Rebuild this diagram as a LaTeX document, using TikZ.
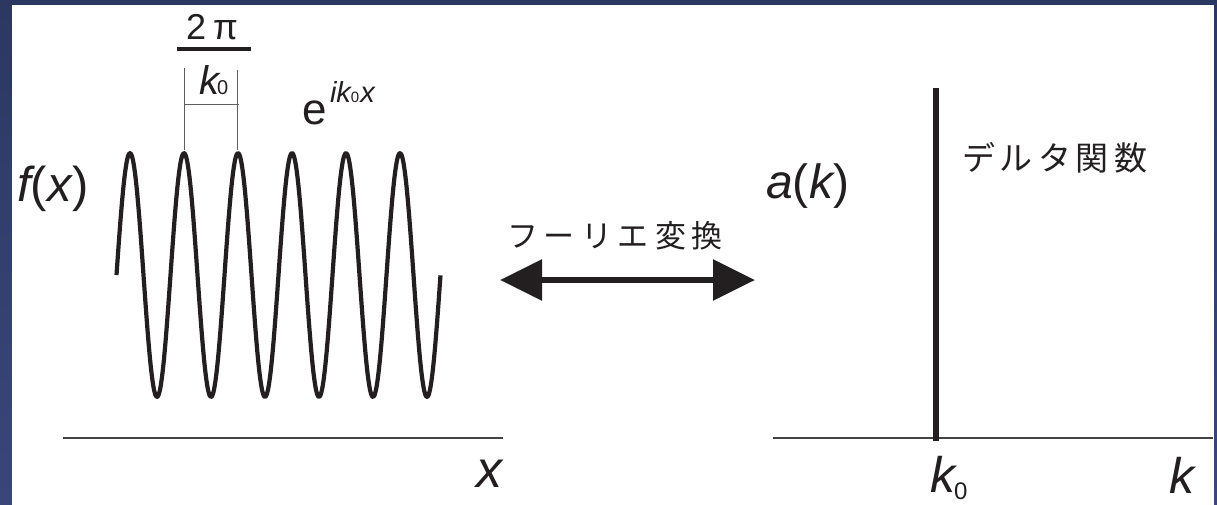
\documentclass[tikz,border=0pt]{standalone}
\usepackage{fontspec}
\setmainfont{Liberation Sans}
\newfontfamily\jp{Noto Sans CJK JP}
\usetikzlibrary{arrows.meta}
\definecolor{slide}{RGB}{58,70,122}
\definecolor{slidedark}{RGB}{44,56,98}
\definecolor{ink}{RGB}{35,31,32}
\definecolor{dimgray}{RGB}{95,95,95}
\newcommand{\fs}[1]{\fontsize{#1}{#1}\selectfont}
\tikzset{
  lbl/.style={inner sep=0pt, outer sep=0pt, text=ink, anchor=base west},
  jlbl/.style={inner sep=0pt, outer sep=0pt, text=ink, anchor=west},
  wave/.style={line width=4.2pt, draw=ink, line join=round, line cap=butt},
  dimline/.style={line width=1pt, draw=dimgray},
  axisline/.style={line width=1.4pt, draw=dimgray!70!black},
  fourier/.style={line width=6pt, draw=ink, {Triangle[length=42pt,width=40pt]}-{Triangle[length=42pt,width=40pt]}},
  delta/.style={line width=6pt, draw=ink},
  fracbar/.style={line width=3.8pt, draw=ink},
}
\begin{document}
\begin{tikzpicture}[x=1pt,y=-1pt]
\useasboundingbox (0,0) rectangle (1217,505);
\shade[top color=slidedark, bottom color=slide] (0,0) rectangle (1217,505);
\fill[white] (12,5) rectangle (1214,505);

% wave: six periods, 54px each, starting at x=116.5
\draw[wave] plot[domain=0:6, samples=300, smooth] ({116.5+54*\x}, {275-122*sin(360*\x)});

% dimension marks
\coordinate (pa) at (184,150);
\coordinate (pb) at (237,150);
\coordinate (pat) at (184,68);
\coordinate (pbt) at (237,70);
\coordinate (ha) at (184,105);
\coordinate (hb) at (239,105);
\draw[dimline] (pa) -- (pat);
\draw[dimline] (pb) -- (pbt);
\draw[dimline] (ha) -- (hb);

% fraction 2pi / k0
\node[lbl, anchor=base] (twopi) at (212,40) {\fs{36}2\hspace{7pt}π};
\coordinate (fbl) at (177,49);
\coordinate (fbr) at (251,49);
\draw[fracbar] (fbl) -- (fbr);
\node[lbl] (kzero) at (199,95) {\fs{40}\itshape k\kern-2pt{\fs{20}\upshape 0}};

% e^{i k0 x}
\node[lbl] (e) at (302,125) {\fs{44}e};
\node[lbl] (expo) at (330,103) {\fs{29}\itshape ik{\fs{15}\upshape 0}\kern1pt x};

% f(x)
\node[lbl] (fx) at (17,201) {\fs{49}{\itshape f}(\kern1pt{\itshape x})};

% axes
\coordinate (xl) at (63,438);
\coordinate (xr) at (503,438);
\draw[axisline] (xl) -- (xr);
\node[lbl] (xlab) at (476,487) {\fs{52}\itshape x};

\coordinate (kl) at (773,438);
\coordinate (kr) at (1213,438);
\draw[axisline] (kl) -- (kr);
\node[lbl] (klab) at (1169,493) {\fs{50}\itshape k};
\node[lbl] (k0lab) at (930,492) {\fs{50}\itshape k\kern-1pt\raisebox{-7pt}{\fs{24}\upshape 0}};

% delta
\coordinate (dtop) at (936,88);
\coordinate (dbot) at (936,441);
\draw[delta] (dtop) -- (dbot);
\node[lbl] (ak) at (766,198) {\fs{48}{\itshape a}(\kern1pt{\itshape k})};
\node[jlbl] (delta) at (962,158) {\fs{33}\jp デ\hspace{5pt}ル\hspace{5pt}タ\hspace{5pt}関\hspace{5pt}数};

% fourier arrow
\node[jlbl] (ft) at (507,236) {\fs{31}\jp フ\hspace{6pt}ー\hspace{6pt}リ\hspace{6pt}エ\hspace{6pt}変\hspace{6pt}換};
\coordinate (al) at (500,280);
\coordinate (ar) at (755,280);
\draw[fourier] (al) -- (ar);
\end{tikzpicture}
\end{document}
